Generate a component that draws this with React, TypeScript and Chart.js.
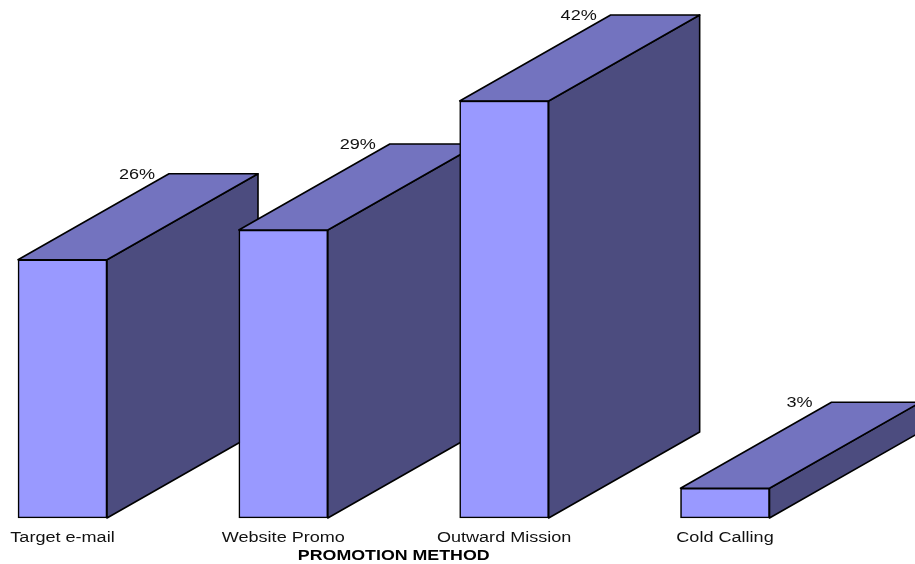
import { useEffect, useRef } from "react";
import { Chart, registerables } from "chart.js";

Chart.register(...registerables);

const methods = ["Target e-mail", "Website Promo", "Outward Mission", "Cold Calling"];
const shares = [26, 29, 42, 3];
const axisTitle = "PROMOTION METHOD";

const FONT = '"Liberation Sans", Arial, sans-serif';
const DEPTH_X = 151;
const DEPTH_Y = 86;
const OUTLINE = "#000000";
const TEXT_STRETCH = 1.29;

function polygon(ctx: CanvasRenderingContext2D, pts: number[][], fill: string) {
  ctx.beginPath();
  pts.forEach(([x, y], i) => (i ? ctx.lineTo(x, y) : ctx.moveTo(x, y)));
  ctx.closePath();
  ctx.fillStyle = fill;
  ctx.fill();
  ctx.lineWidth = 1.6;
  ctx.strokeStyle = OUTLINE;
  ctx.lineJoin = "round";
  ctx.stroke();
}

// Horizontally widened label, centred on cx.
function wideText(ctx: CanvasRenderingContext2D, text: string, cx: number, baseline: number, bold = false) {
  ctx.save();
  ctx.font = `${bold ? "bold 13.8px" : "14px"} ${FONT}`;
  ctx.fillStyle = bold ? "#000000" : "#111111";
  ctx.textAlign = "center";
  ctx.textBaseline = "alphabetic";
  ctx.translate(cx, baseline);
  ctx.scale(TEXT_STRETCH, 1);
  ctx.fillText(text, 0, 0);
  ctx.restore();
}

// Extrudes every bar backwards: side and top faces sit behind the library's front rectangles.
const extrusion = {
  id: "extrusion",
  beforeDatasetsDraw(chart: any) {
    const { ctx } = chart;
    ctx.save();
    for (const bar of chart.getDatasetMeta(0).data) {
      const half = bar.width / 2;
      const l = bar.x - half;
      const r = bar.x + half;
      const t = bar.y;
      const b = bar.base;
      polygon(ctx, [[r, t], [r + DEPTH_X, t - DEPTH_Y], [r + DEPTH_X, b - DEPTH_Y], [r, b]], "#4c4c7f");
      polygon(ctx, [[l, t], [l + DEPTH_X, t - DEPTH_Y], [r + DEPTH_X, t - DEPTH_Y], [r, t]], "#7373bf");
    }
    ctx.restore();
  },
  afterDatasetsDraw(chart: any) {
    const { ctx, scales, chartArea } = chart;
    chart.getDatasetMeta(0).data.forEach((bar: any, i: number) => {
      const l = bar.x - bar.width / 2;
      wideText(ctx, `${shares[i]}%`, l + DEPTH_X - 32, bar.y - DEPTH_Y + 5);
    });
    methods.forEach((name, i) => {
      wideText(ctx, name, scales.x.getPixelForValue(i), chartArea.bottom + 24);
    });
    wideText(ctx, axisTitle, (chartArea.left + chartArea.right) / 2, chartArea.bottom + 42, true);
  },
};

export default function App() {
  const ref = useRef<HTMLCanvasElement>(null);

  useEffect(() => {
    const chart = new Chart(ref.current!, {
      type: "bar",
      data: {
        labels: methods,
        datasets: [
          {
            data: shares,
            backgroundColor: "#9999ff",
            borderColor: OUTLINE,
            borderWidth: 1.6,
            borderSkipped: false,
            barThickness: 89,
            clip: false,
          } as any,
        ],
      },
      plugins: [extrusion],
      options: {
        animation: false,
        responsive: false,
        layout: { padding: { left: 62.5, right: 190, top: 21.5, bottom: 0 } },
        plugins: { legend: { display: false }, tooltip: { enabled: false } },
        scales: {
          x: {
            offset: false,
            grid: { display: false },
            border: { display: false },
            ticks: { display: false },
            afterFit(scale: any) {
              scale.height = 46;
            },
          },
          y: { display: false, min: 0, max: 50 },
        },
      },
    });
    return () => chart.destroy();
  }, []);

  return (
    <canvas
      ref={ref}
      width={915}
      height={564}
      style={{ position: "absolute", left: 0, top: 0, width: 915, height: 564 }}
    />
  );
}
